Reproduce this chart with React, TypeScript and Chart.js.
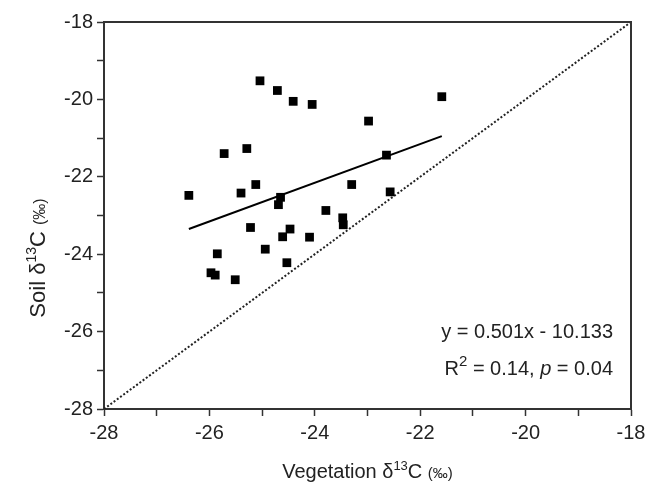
import React, { useEffect, useRef } from 'react';
import { Chart, registerables } from 'chart.js';

Chart.register(...registerables);

// Vegetation δ13C (x) and Soil δ13C (y) for each sample
const vegetation = [
  -25.04, -24.71, -24.41, -24.05, -22.98, -21.59, -25.72, -25.29, -22.64, -26.39,
  -25.40, -25.12, -24.65, -24.69, -23.30, -22.57, -23.79, -23.47, -23.46, -25.22,
  -24.61, -24.47, -24.10, -24.94, -25.85, -25.97, -25.89, -25.51, -24.53,
];
const soil = [
  -19.52, -19.77, -20.05, -20.13, -20.56, -19.93, -21.40, -21.27, -21.44, -22.48,
  -22.42, -22.20, -22.53, -22.72, -22.20, -22.39, -22.87, -23.06, -23.24, -23.31,
  -23.55, -23.35, -23.56, -23.87, -23.99, -24.48, -24.54, -24.66, -24.22,
];

// Regression line end points
const fitX = [-26.39, -21.59];
const fitY = [-23.35, -20.95];

// 1:1 line
const oneX = [-28, -18];
const oneY = [-28, -18];

const axisMin = -28;
const axisMax = -18;
const majorLabels = ['-28', '-26', '-24', '-22', '-20', '-18'];

const equationLine = 'y = 0.501x - 10.133';
const r2Value = '0.14';
const pValue = '0.04';

const FONT = '"Liberation Sans", Arial, sans-serif';
const TEXT = '#222';
const AXIS = '#333';

type Seg = { t: string; size: number; dy?: number; italic?: boolean };

function segWidth(ctx: CanvasRenderingContext2D, segs: Seg[]) {
  let w = 0;
  for (const s of segs) {
    ctx.font = `${s.italic ? 'italic ' : ''}${s.size}px ${FONT}`;
    w += ctx.measureText(s.t).width;
  }
  return w;
}

function drawSegs(ctx: CanvasRenderingContext2D, segs: Seg[], x: number, y: number) {
  let cx = x;
  for (const s of segs) {
    ctx.font = `${s.italic ? 'italic ' : ''}${s.size}px ${FONT}`;
    ctx.fillText(s.t, cx, y + (s.dy || 0));
    cx += ctx.measureText(s.t).width;
  }
}

const decor = {
  id: 'decor',
  afterDraw(chart: any) {
    const { ctx, chartArea: a } = chart;
    ctx.save();
    // frame top & right
    ctx.strokeStyle = AXIS;
    ctx.lineWidth = 2;
    ctx.beginPath();
    ctx.moveTo(a.left, a.top);
    ctx.lineTo(a.right, a.top);
    ctx.lineTo(a.right, a.bottom);
    ctx.stroke();

    ctx.fillStyle = TEXT;
    ctx.textAlign = 'left';
    ctx.textBaseline = 'alphabetic';

    // equation text
    const rightEdge = a.right - 18;
    const l1: Seg[] = [{ t: equationLine, size: 20 }];
    drawSegs(ctx, l1, rightEdge - segWidth(ctx, l1), 338);
    const l2: Seg[] = [
      { t: 'R', size: 20 },
      { t: '2', size: 15, dy: -9 },
      { t: ' = ' + r2Value + ', ', size: 20 },
      { t: 'p', size: 20, italic: true },
      { t: ' = ' + pValue, size: 20 },
    ];
    drawSegs(ctx, l2, rightEdge - segWidth(ctx, l2), 375);

    // x title
    const xt: Seg[] = [
      { t: 'Vegetation δ', size: 20 },
      { t: '13', size: 13, dy: -8 },
      { t: 'C ', size: 20 },
      { t: '(‰)', size: 15 },
    ];
    const xc = (a.left + a.right) / 2;
    drawSegs(ctx, xt, xc - segWidth(ctx, xt) / 2, 478);

    // y title
    const yt: Seg[] = [
      { t: 'Soil δ', size: 22 },
      { t: '13', size: 14, dy: -9 },
      { t: 'C ', size: 22 },
      { t: '(‰)', size: 16 },
    ];
    ctx.translate(45, 258);
    ctx.rotate(-Math.PI / 2);
    drawSegs(ctx, yt, -segWidth(ctx, yt) / 2, 0);
    ctx.restore();
  },
};

function axisCfg(isX: boolean) {
  return {
    type: 'linear' as const,
    min: axisMin,
    max: axisMax,
    afterFit: (scale: any) => {
      if (isX) scale.height = 75;
      else scale.width = 104;
    },
    ticks: {
      stepSize: 1,
      autoSkip: false,
      maxRotation: 0,
      padding: isX ? 5 : 4,
      color: TEXT,
      font: { size: 20, family: FONT },
      callback: (v: number) => {
        const s = String(Math.round(v));
        return majorLabels.includes(s) ? s : '';
      },
    },
    grid: {
      drawOnChartArea: false,
      drawTicks: true,
      tickLength: 7,
      tickWidth: 1.5,
      tickColor: AXIS,
    },
    border: { display: true, color: AXIS, width: 2 },
  };
}

export default function App() {
  const ref = useRef<HTMLCanvasElement | null>(null);
  useEffect(() => {
    if (!ref.current) return;
    const chart = new Chart(ref.current, {
      type: 'scatter',
      data: {
        datasets: [
          {
            label: 'Samples',
            data: vegetation.map((x, i) => ({ x, y: soil[i] })),
            pointStyle: 'rect',
            pointRadius: 6.2,
            pointBackgroundColor: '#000',
            pointBorderWidth: 0,
            showLine: false,
          },
          {
            label: 'Fit',
            data: fitX.map((x, i) => ({ x, y: fitY[i] })),
            showLine: true,
            borderColor: '#000',
            borderWidth: 2,
            pointRadius: 0,
          },
          {
            label: '1:1',
            data: oneX.map((x, i) => ({ x, y: oneY[i] })),
            showLine: true,
            borderColor: '#222',
            borderWidth: 2,
            borderDash: [2, 2],
            pointRadius: 0,
          },
        ],
      },
      options: {
        animation: false,
        responsive: false,
        layout: { padding: { left: 0, right: 26, top: 22, bottom: 0 } },
        plugins: { legend: { display: false }, tooltip: { enabled: false } },
        scales: { x: axisCfg(true), y: axisCfg(false) } as any,
      },
      plugins: [decor],
    });
    return () => chart.destroy();
  }, []);
  return (
    <div style={{ position: 'fixed', left: 0, top: 0, width: 657, height: 484, background: '#fff' }}>
      <canvas ref={ref} width={657} height={484} />
    </div>
  );
}
